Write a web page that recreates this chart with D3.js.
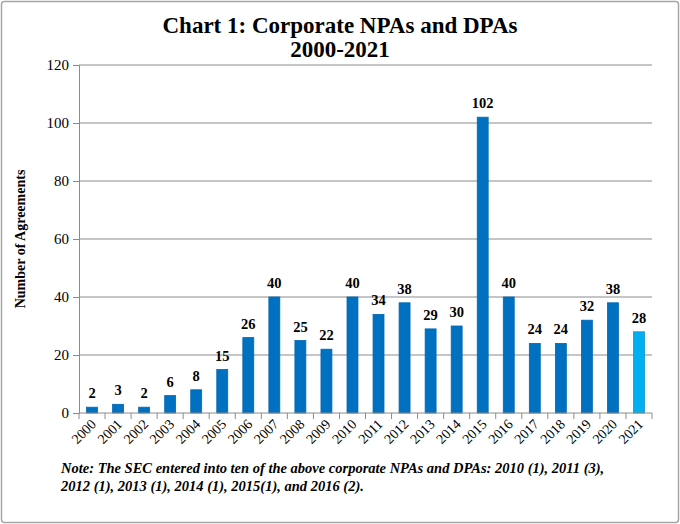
<!DOCTYPE html>
<html><head><meta charset="utf-8">
<script src="https://cdn.jsdelivr.net/npm/d3@7/dist/d3.min.js"></script>
<style>body{margin:0;background:#fff;}svg{display:block;}svg text{font-family:"Liberation Serif","Times New Roman",serif !important;}</style>
</head><body>
<svg id="c" width="680" height="524"></svg>
<script>
const years = ["2000","2001","2002","2003","2004","2005","2006","2007","2008","2009","2010","2011","2012","2013","2014","2015","2016","2017","2018","2019","2020","2021"];
const agreements = [2,3,2,6,8,15,26,40,25,22,40,34,38,29,30,102,40,24,24,32,38,28];
const yTicks = [0,20,40,60,80,100,120];
const titleLines = ["Chart 1: Corporate NPAs and DPAs","2000-2021"];
const noteLines = ["Note: The SEC entered into ten of the above corporate NPAs and DPAs: 2010 (1), 2011 (3),","2012 (1), 2013 (1), 2014 (1), 2015(1), and 2016 (2)."];

const svg = d3.select("#c");
svg.append("rect").attr("x",1.5).attr("y",1.5).attr("width",677).attr("height",521).attr("rx",3)
  .attr("fill","#fff").attr("stroke","#a6a6a6").attr("stroke-width",1.5);

const m = {left:79, right:652, top:65, bottom:413};
const x = d3.scaleBand().domain(years).range([m.left,m.right]).paddingInner(0.58).paddingOuter(0.29);
const y = d3.scaleLinear().domain([0,120]).range([m.bottom,m.top]);

svg.append("g").selectAll("line").data(yTicks.filter(d=>d>0)).join("line")
  .attr("x1",m.left).attr("x2",m.right).attr("y1",d=>y(d)).attr("y2",d=>y(d))
  .attr("stroke","#8c8c8c").attr("stroke-width",1);

const ya = svg.append("g").attr("transform",`translate(${m.left},0)`)
  .call(d3.axisLeft(y).tickValues(yTicks).tickSize(6).tickPadding(4));
ya.select(".domain").attr("stroke","#8c8c8c");
ya.selectAll(".tick line").attr("stroke","#8c8c8c");
ya.selectAll("text").attr("font-size",15).attr("fill","#000");

svg.append("g").selectAll("rect").data(years).join("rect")
  .attr("x",d=>x(d)).attr("width",x.bandwidth())
  .attr("y",(d,i)=>y(agreements[i])).attr("height",(d,i)=>y(0)-y(agreements[i]))
  .attr("fill",(d,i)=>i===years.length-1?"#00b0f0":"#0070c0")
  .attr("stroke",(d,i)=>i===years.length-1?"#1a8fd0":"#0067b3").attr("stroke-width",0.8);

svg.append("g").selectAll("text").data(years).join("text")
  .attr("x",d=>x(d)+x.bandwidth()/2).attr("y",(d,i)=>y(agreements[i])-9)
  .attr("text-anchor","middle").attr("font-size",14.5).attr("font-weight","bold")
  .text((d,i)=>agreements[i]);

const step = x.step();
svg.append("line").attr("x1",m.left).attr("x2",m.right).attr("y1",m.bottom).attr("y2",m.bottom).attr("stroke","#8c8c8c");
const bounds = d3.range(years.length+1).map(i=>m.left+i*step);
svg.append("g").selectAll("line").data(bounds).join("line")
  .attr("x1",d=>d).attr("x2",d=>d).attr("y1",m.bottom).attr("y2",m.bottom+6).attr("stroke","#8c8c8c");
svg.append("g").selectAll("text").data(years).join("text")
  .attr("transform",d=>`translate(${x(d)+x.bandwidth()/2+5},${m.bottom+12}) rotate(-45)`)
  .attr("text-anchor","end").attr("font-size",14).text(d=>d);

svg.append("text").attr("transform",`translate(25,${(m.top+m.bottom)/2}) rotate(-90)`)
  .attr("text-anchor","middle").attr("font-size",14).attr("font-weight","bold").text("Number of Agreements");

svg.append("g").selectAll("text").data(titleLines).join("text")
  .attr("x",340).attr("y",(d,i)=>33+i*24).attr("text-anchor","middle")
  .attr("font-size",23).attr("font-weight","bold").text(d=>d);

svg.append("g").selectAll("text").data(noteLines).join("text")
  .attr("x",61).attr("y",(d,i)=>473+i*18).attr("font-size",14.5).attr("font-weight","bold").attr("font-style","italic").text(d=>d);
</script>
</body></html>
